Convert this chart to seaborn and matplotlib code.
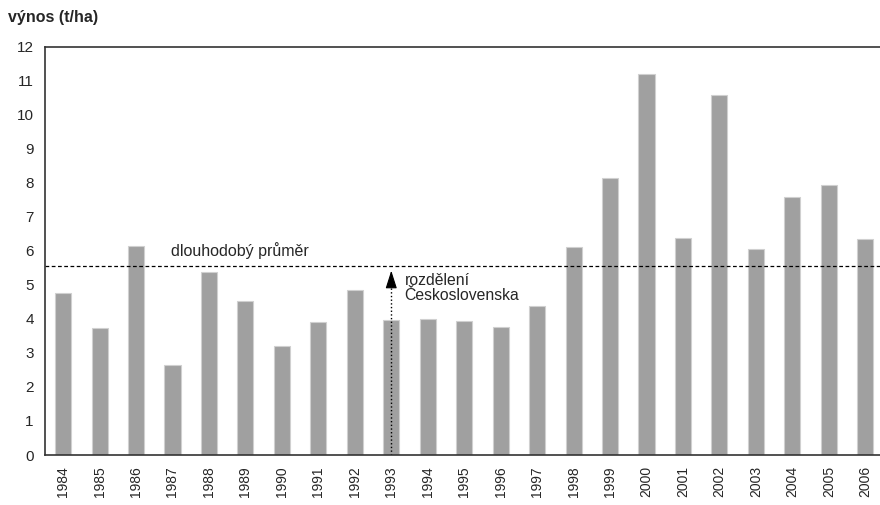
import matplotlib
matplotlib.use("Agg")
import matplotlib.pyplot as plt
import numpy as np
import pandas as pd
import seaborn as sns

roky = ['1984', '1985', '1986', '1987', '1988', '1989', '1990', '1991', '1992', '1993', '1994', '1995',
        '1996', '1997', '1998', '1999', '2000', '2001', '2002', '2003', '2004', '2005', '2006']
vynos = [4.77, 3.74, 6.14, 2.65, 5.37, 4.53, 3.20, 3.91, 4.84, 3.97, 3.99, 3.94,
         3.75, 4.39, 6.12, 8.14, 11.2, 6.38, 10.57, 6.05, 7.59, 7.94, 6.35]
prumer = 5.55  # dlouhodoby prumer
rok_rozdeleni = '1993'

df = pd.DataFrame({'rok': roky, 'vynos': vynos})

sns.set_style('white')
plt.rcParams['font.family'] = ['Liberation Sans', 'DejaVu Sans']

fig = plt.figure(figsize=(8.8, 5.05), dpi=100)
ax = fig.add_axes([0.051, 0.099, 0.953, 0.8085])

sns.barplot(data=df, x='rok', y='vynos', order=roky, color='#a0a0a0', saturation=1,
            width=0.44, edgecolor='#d0d0d0', linewidth=0.8, ax=ax)

ax.set_ylim(0, 12)
ax.set_xlim(-0.5, len(roky) - 0.5)
ax.set_yticks(range(0, 13))
ax.set_xlabel('')
ax.set_ylabel('')

# popisky let bez carek, carky mezi sloupci
ax.set_xticks(range(len(roky)))
ax.set_xticklabels(roky, rotation=90, fontsize=10)
ax.set_xticks(np.arange(-0.5, len(roky)), minor=True)
ax.tick_params(axis='x', which='major', length=0, pad=8)
ax.tick_params(axis='x', which='minor', length=5, width=1, color='#222222', direction='out')
ax.tick_params(axis='y', length=5, width=1, color='#222222', direction='out', labelsize=11, pad=3)

for s in ['left', 'bottom', 'top']:
    ax.spines[s].set_color('#333333')
    ax.spines[s].set_linewidth(1.2)
ax.spines['right'].set_visible(False)

# prumer
ax.axhline(prumer, color='black', linestyle=(0, (3, 2)), linewidth=0.9)
ax.text(2.95, prumer + 0.2, 'dlouhodobý průměr', fontsize=11.5, ha='left', va='bottom')

# rozdeleni Ceskoslovenska
i = roky.index(rok_rozdeleni)
ax.plot([i, i], [0, prumer - 0.4], color='black', linestyle=':', linewidth=1)
ax.annotate('', xy=(i, prumer - 0.05), xytext=(i, prumer - 0.5),
            arrowprops=dict(arrowstyle='-|>,head_length=1.1,head_width=0.35',
                            color='black', linewidth=0.8, mutation_scale=10))
ax.text(i + 0.36, prumer - 0.2, 'rozdělení\nČeskoslovenska', fontsize=11.3,
        ha='left', va='top', linespacing=1.0)

fig.text(0.009, 0.966, 'výnos (t/ha)', fontsize=11.5, fontweight='bold', ha='left', va='center')

fig.savefig('out.png', dpi=100)
